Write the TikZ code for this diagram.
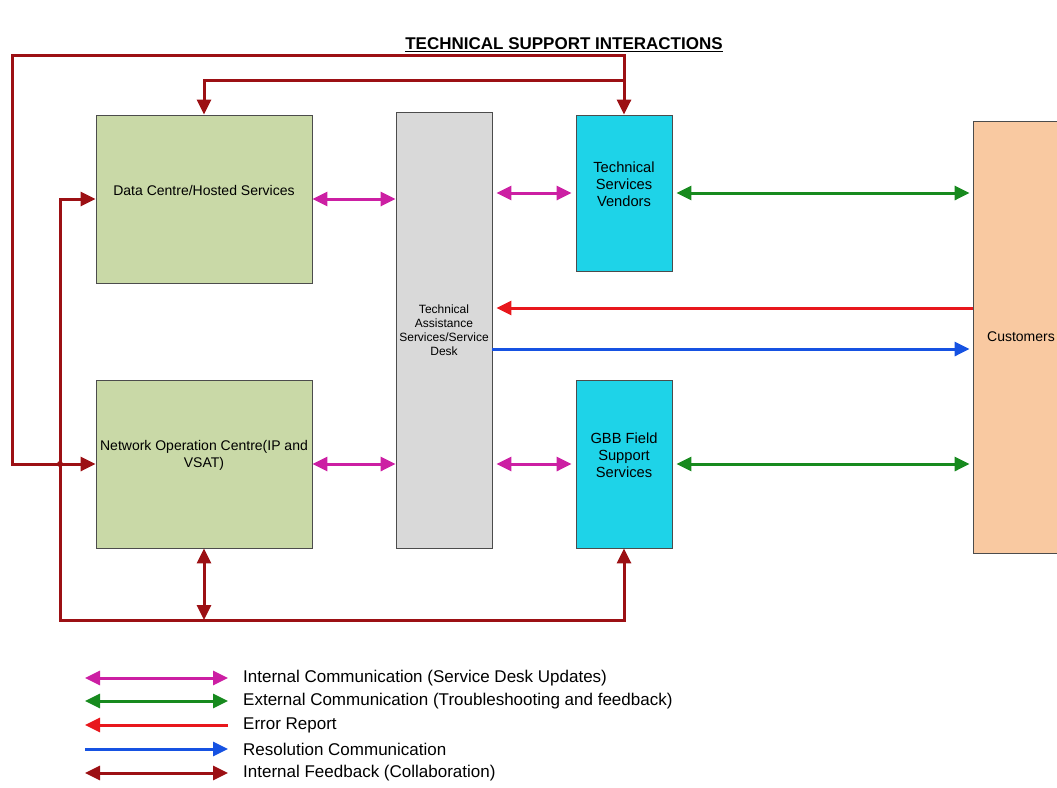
\documentclass[tikz,border=0pt]{standalone}
\usepackage{fontspec}
\setmainfont{Liberation Sans}
\usetikzlibrary{arrows.meta}

\definecolor{dcgreen}{HTML}{C9D9A7}
\definecolor{tasgrey}{HTML}{D9D9D9}
\definecolor{vendcyan}{HTML}{1ED3E8}
\definecolor{custpeach}{HTML}{F9C9A1}
\definecolor{intmag}{HTML}{CC1FA3}
\definecolor{extgreen}{HTML}{178A1E}
\definecolor{errred}{HTML}{E8171C}
\definecolor{resblue}{HTML}{1652E2}
\definecolor{fbkred}{HTML}{9C1014}

\begin{document}
\begin{tikzpicture}
        [x=1pt,y=-1pt,>={Triangle[length=15pt,width=14pt]},
         box/.style={draw=black!70,line width=0.8pt,inner sep=2pt,align=center,
           font=\fontsize{14}{17}\selectfont},
         intl/.style={draw=intmag,line width=3pt,<->},
         extl/.style={draw=extgreen,line width=3pt,<->},
         errl/.style={draw=errred,line width=3pt,->},
         resl/.style={draw=resblue,line width=3pt,->},
         fbk/.style={draw=fbkred,line width=3pt},
         legtxt/.style={anchor=west,inner sep=0,font=\fontsize{17}{20}\selectfont}]

        \clip (0,0) rectangle (1057,787);

        \node[font=\bfseries\fontsize{17}{20}\selectfont] (title) at (564,45) {\underline{TECHNICAL SUPPORT INTERACTIONS}};

        \node[box,fill=dcgreen,minimum width=216pt,minimum height=168pt,text depth=18pt] (dc) at (204,199) {Data Centre/Hosted Services};
        \node[box,fill=dcgreen,minimum width=216pt,minimum height=168pt,text depth=21pt] (noc) at (204,464) {Network Operation Centre(IP and\\VSAT)};
        \node[box,fill=tasgrey,minimum width=96pt,minimum height=436pt,font=\fontsize{12}{14}\selectfont] (tas) at (444,330) {Technical\\Assistance\\Services/Service\\Desk};
        \node[box,fill=vendcyan,minimum width=96pt,minimum height=156pt,text depth=18pt,font=\fontsize{14.7}{17}\selectfont] (tsv) at (624,193) {Technical\\Services\\Vendors};
        \node[box,fill=vendcyan,minimum width=96pt,minimum height=168pt,text depth=18pt,font=\fontsize{14.7}{17}\selectfont] (gbb) at (624,464) {GBB Field\\Support\\Services};
        \node[box,fill=custpeach,minimum width=96pt,minimum height=432pt] (cust) at (1021,337) {Customers};

        \coordinate (err) at (0,308);
        \coordinate (res) at (0,349);
        \coordinate (outer) at (12,55);
        \coordinate (inner) at (60,620);
        \coordinate (branch) at (624,80);

        % internal communication
        \draw[intl] (dc.east) -- (dc.east -| tas.west);
        \draw[intl] (noc.east) -- (noc.east -| tas.west);
        \draw[intl,shorten <=4pt,shorten >=4pt] (tsv.west -| tas.east) -- (tsv.west);
        \draw[intl,shorten <=4pt,shorten >=4pt] (gbb.west -| tas.east) -- (gbb.west);

        % external communication
        \draw[extl,shorten <=4pt,shorten >=3pt] (tsv.east) -- (tsv.east -| cust.west);
        \draw[extl,shorten <=4pt,shorten >=3pt] (gbb.east) -- (gbb.east -| cust.west);

        % error report and resolution
        \draw[errl,shorten >=4pt] (cust.west |- err) -- (tas.east |- err);
        \draw[resl,shorten >=3pt] (tas.east |- res) -- (cust.west |- res);

        % internal feedback
        \draw[fbk,<->] (noc.west) -| (outer) -| (tsv.north);
        \draw[fbk,->] (branch) -| (dc.north);
        \draw[fbk,<->] (dc.west) -| (inner) -| (gbb.south);
        \draw[fbk,<->] (noc.south) -- (noc.south |- inner);
        \fill[fbkred] (inner |- noc.west) circle (3pt);

        % legend
        \node[legtxt] (l1) at (243,678) {Internal Communication (Service Desk Updates)};
        \node[legtxt] (l2) at (243,701) {External Communication (Troubleshooting and feedback)};
        \node[legtxt] (l3) at (243,725) {Error Report};
        \node[legtxt] (l4) at (243,749) {Resolution Communication};
        \node[legtxt] (l5) at (243,773) {Internal Feedback (Collaboration)};
        \coordinate (s1) at (85,678);
        \coordinate (s2) at (85,701);
        \coordinate (s3) at (85,725);
        \coordinate (s4) at (85,749);
        \coordinate (s5) at (85,773);
        \draw[intl,shorten >=15pt] (s1) -- (l1.west);
        \draw[extl,shorten >=15pt] (s2) -- (l2.west);
        \draw[errl,shorten <=15pt] (l3.west) -- (s3);
        \draw[resl,shorten >=15pt] (s4) -- (l4.west);
        \draw[fbk,<->,shorten >=15pt] (s5) -- (l5.west);
      \end{tikzpicture}
\end{document}
